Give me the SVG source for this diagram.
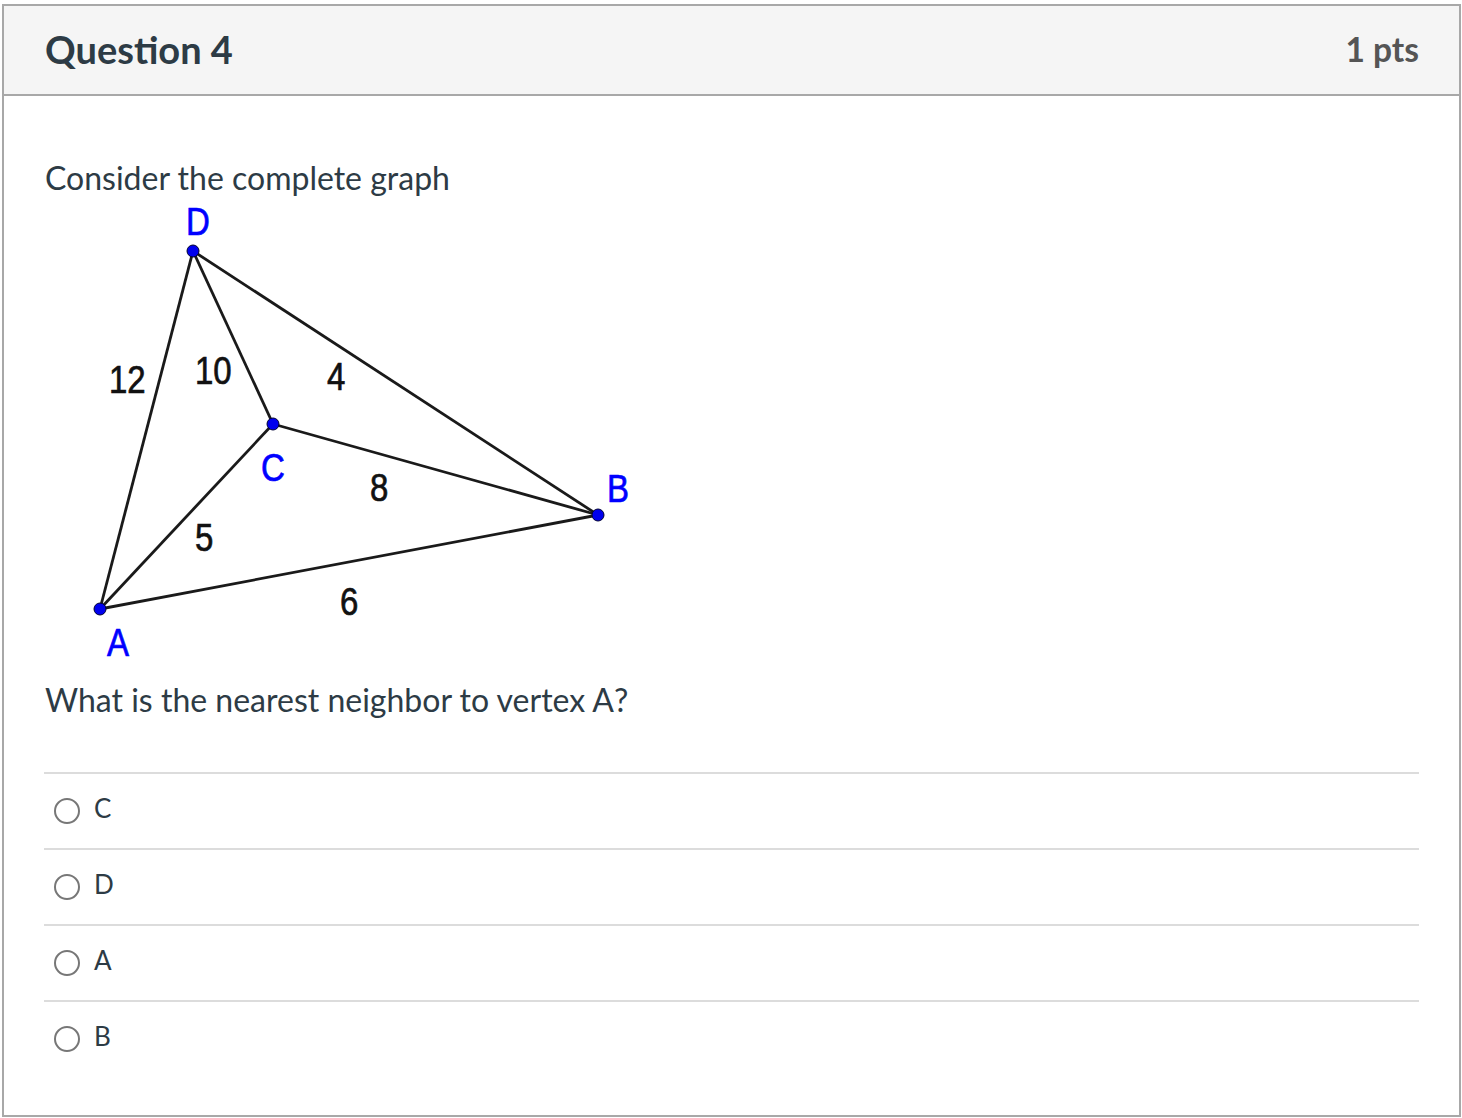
<svg xmlns="http://www.w3.org/2000/svg" width="1462" height="1118" viewBox="0 0 1462 1118">
<style>
.ui{font-family:Lato,"Liberation Sans",sans-serif;fill:#2d3b45}
.gl{font-family:"Liberation Sans",Arial,sans-serif;font-size:33px;stroke-width:0.6}
.vl{fill:#0000ff;stroke:#0000ff}
.el{fill:#111;stroke:#111}
.edge{stroke:#1a1a1a;stroke-width:2.8;fill:none}
.dot{fill:#0000ee;stroke:#000033;stroke-width:1}
.sep{stroke:#dcdcdc;stroke-width:2}
.radio{fill:#fff;stroke:#777;stroke-width:2}
</style>
<rect x="3" y="5" width="1457" height="1111" fill="#fff" stroke="#a8a8a8" stroke-width="2"/>
<rect x="3" y="5" width="1457" height="90" fill="#f5f5f5" stroke="#a8a8a8" stroke-width="2"/>
<text class="ui" x="45" y="64" font-size="38" font-weight="bold">Question 4</text>
<text class="ui" x="1419" y="62" font-size="33.5" font-weight="bold" text-anchor="end" style="fill:#555">1 pts</text>
<text class="ui" x="45" y="190" font-size="32">Consider the complete graph</text>
<g id="connectors">
<line class="edge" x1="193" y1="251" x2="100" y2="609"/>
<line class="edge" x1="193" y1="251" x2="273" y2="424"/>
<line class="edge" x1="193" y1="251" x2="598" y2="515"/>
<line class="edge" x1="273" y1="424" x2="598" y2="515"/>
<line class="edge" x1="273" y1="424" x2="100" y2="609"/>
<line class="edge" x1="100" y1="609" x2="598" y2="515"/>
<text class="gl el" transform="translate(109,393) scale(1,1.15)">12</text>
<text class="gl el" transform="translate(195,384) scale(1,1.15)">10</text>
<text class="gl el" transform="translate(327,390) scale(1,1.15)">4</text>
<text class="gl el" transform="translate(370,501) scale(1,1.15)">8</text>
<text class="gl el" transform="translate(195,551) scale(1,1.15)">5</text>
<text class="gl el" transform="translate(340,615) scale(1,1.15)">6</text>
</g>
<g id="node-D"><circle class="dot" cx="193" cy="251" r="6"/><text class="gl vl" transform="translate(186,235) scale(1,1.15)">D</text></g>
<g id="node-C"><circle class="dot" cx="273" cy="424" r="6"/><text class="gl vl" transform="translate(261,481) scale(1,1.15)">C</text></g>
<g id="node-B"><circle class="dot" cx="598" cy="515" r="6"/><text class="gl vl" transform="translate(607,502) scale(1,1.15)">B</text></g>
<g id="node-A"><circle class="dot" cx="100" cy="609" r="6"/><text class="gl vl" transform="translate(107,656) scale(1,1.15)">A</text></g>
<text class="ui" x="45" y="712" font-size="32">What is the nearest neighbor to vertex A?</text>
<line class="sep" x1="44" y1="773" x2="1419" y2="773"/>
<line class="sep" x1="44" y1="849" x2="1419" y2="849"/>
<line class="sep" x1="44" y1="925" x2="1419" y2="925"/>
<line class="sep" x1="44" y1="1001" x2="1419" y2="1001"/>
<circle class="radio" cx="67" cy="811" r="12"/>
<circle class="radio" cx="67" cy="887" r="12"/>
<circle class="radio" cx="67" cy="963" r="12"/>
<circle class="radio" cx="67" cy="1039" r="12"/>
<text class="ui" x="94" y="818" font-size="26">C</text>
<text class="ui" x="94" y="894" font-size="26">D</text>
<text class="ui" x="94" y="970" font-size="26">A</text>
<text class="ui" x="94" y="1046" font-size="26">B</text>
</svg>
